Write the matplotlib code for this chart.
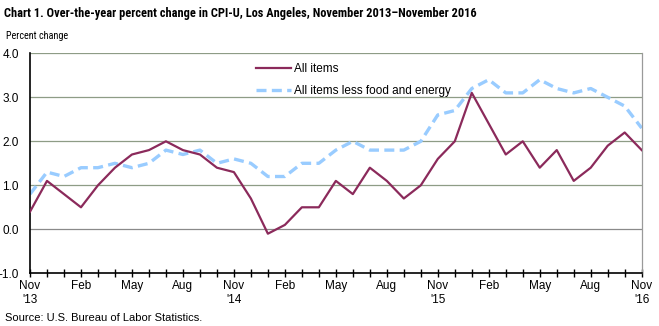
import matplotlib
matplotlib.use("Agg")
import matplotlib.pyplot as plt
from matplotlib import font_manager

# Monthly over-the-year percent change, Nov 2013 - Nov 2016
all_items = [0.4, 1.1, 0.8, 0.5, 1.0, 1.4, 1.7, 1.8, 2.0, 1.8, 1.7, 1.4,
             1.3, 0.7, -0.1, 0.1, 0.5, 0.5, 1.1, 0.8, 1.4, 1.1, 0.7, 1.0,
             1.6, 2.0, 3.1, 2.4, 1.7, 2.0, 1.4, 1.8, 1.1, 1.4, 1.9, 2.2, 1.8]
core = [0.8, 1.3, 1.2, 1.4, 1.4, 1.5, 1.4, 1.5, 1.8, 1.7, 1.8, 1.5,
        1.6, 1.5, 1.2, 1.2, 1.5, 1.5, 1.8, 2.0, 1.8, 1.8, 1.8, 2.0,
        2.6, 2.7, 3.2, 3.4, 3.1, 3.1, 3.4, 3.2, 3.1, 3.2, 3.0, 2.8, 2.3]
tick_labels = ["Nov\n'13", "Feb", "May", "Aug", "Nov\n'14", "Feb", "May", "Aug",
               "Nov\n'15", "Feb", "May", "Aug", "Nov\n'16"]
y_ticks = [-1.0, 0.0, 1.0, 2.0, 3.0, 4.0]

names = {f.name for f in font_manager.fontManager.ttflist}
narrow = next((n for n in ("Liberation Sans Narrow", "Roboto Condensed",
                           "DejaVu Sans Condensed", "Open Sans Condensed")
               if n in names), "Liberation Sans")
plt.rcParams["font.family"] = ["Liberation Sans", "DejaVu Sans"]

fig = plt.figure(figsize=(6.59, 3.26), dpi=100)
ax = fig.add_axes([30 / 659, 1 - 273.3 / 326, (641.7 - 30) / 659, 220 / 326])

x = list(range(len(all_items)))
grid_c = "#8e9c86"
for v in y_ticks[1:]:
    ax.axhline(v, color=grid_c if v > 0 else "#8a8a8a", lw=0.9, zorder=1)

ax.plot(x, core, color="#99ccff", lw=2.4, dashes=(3.0, 1.6),
        label="All items less food and energy", zorder=2)
ax.plot(x, all_items, color="#8b2a5b", lw=1.6, label="All items", zorder=3)

ax.set_xlim(0, len(all_items) - 1)
ax.set_ylim(-1.0, 4.0)
ax.set_xticks(x, minor=False)
ax.set_xticklabels([tick_labels[i // 3] if i % 3 == 0 else "" for i in x])
ax.set_yticks(y_ticks)
ax.set_yticklabels([f"{v:.1f}" for v in y_ticks])
ax.tick_params(axis="x", direction="inout", length=6, width=1, pad=2,
               labelsize=8.5, colors="black")
ax.tick_params(axis="y", length=0, pad=8, labelsize=8.5)

ax.spines["top"].set_visible(False)
ax.spines["right"].set_color("#9a9a9a")
ax.spines["right"].set_linewidth(0.9)
ax.spines["left"].set_linewidth(1.2)
ax.spines["bottom"].set_linewidth(1.2)

handles, labels = ax.get_legend_handles_labels()
ax.legend(handles[::-1], labels[::-1], loc="upper left",
          bbox_to_anchor=(0.352, 1.005), frameon=False, fontsize=8.5,
          handlelength=3.0, handletextpad=0.2, labelspacing=0.9)

title = fig.text(4 / 659, 1 - 17 / 326,
                 "Chart 1. Over-the-year percent change in CPI-U, Los Angeles, November 2013\u2013November 2016",
                 family=narrow, fontweight="bold", fontsize=10.5, ha="left", va="baseline")
ylab = fig.text(6 / 659, 1 - 39 / 326, "Percent change", family=narrow, fontsize=8.5,
                ha="left", va="baseline")
fig.text(5 / 659, 1 - 321 / 326, "Source: U.S. Bureau of Labor Statistics.",
         fontsize=8, ha="left", va="baseline")

# shrink the heading texts to the widths they occupy on the page
renderer = fig.canvas.get_renderer()
for txt, width_px in ((title, 471), (ylab, 62)):
    w = txt.get_window_extent(renderer).width
    if w > width_px:
        txt.set_fontsize(txt.get_fontsize() * width_px / w)

fig.savefig("out.png", dpi=100)
